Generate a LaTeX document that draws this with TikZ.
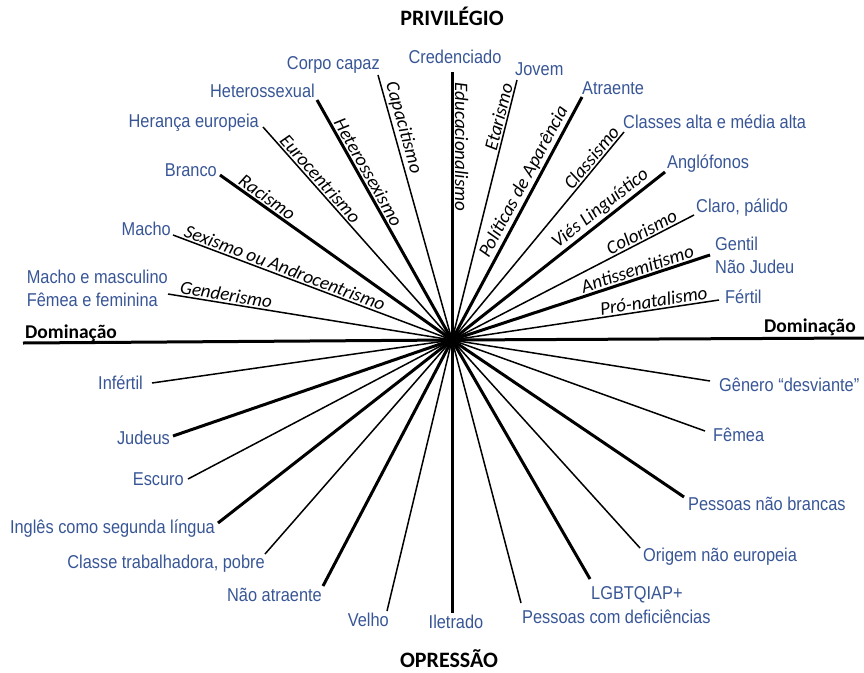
\documentclass[tikz,border=0pt]{standalone}
\usepackage{fontspec}
\setmainfont{Liberation Sans}
\newfontfamily\labfam[FakeStretch=0.88]{Liberation Sans}
\newfontfamily\calfam{Carlito}
\definecolor{labblue}{RGB}{56,86,150}
\tikzset{
 thinray/.style={line width=1.5pt, black},
 thickray/.style={line width=3pt, black},
 ism/.style={sloped, above, inner sep=1.5pt, font=\calfam\itshape\fontsize{19}{19}\selectfont},
 grp/.style={text=labblue, inner sep=0pt, font=\labfam\fontsize{18.6}{23}\selectfont},
 ttl/.style={inner sep=0pt, font=\calfam\bfseries\fontsize{22}{22}\selectfont},
 domt/.style={inner sep=0pt, font=\calfam\bfseries\fontsize{19.5}{19.5}\selectfont},
}
\begin{document}
\begin{tikzpicture}[x=1pt,y=-1pt]
\useasboundingbox (0,0) rectangle (864,672);
\coordinate (O) at (452,340);
% rays
\coordinate (gA) at (168,294); \coordinate (gB) at (710,381);
\draw[thinray] (gA) -- node[ism,pos=0.20]{Genderismo} (O) -- (gB);
\coordinate (sA) at (173,235); \coordinate (sB) at (705,431);
\draw[thinray] (sA) -- node[ism,pos=0.39]{Sexismo ou Androcentrismo} (O) -- (sB);
\coordinate (rA) at (220,175); \coordinate (rB) at (684,497);
\draw[thickray] (rA) -- node[ism,pos=0.18]{Racismo} (O) -- (rB);
\coordinate (eA) at (263,127); \coordinate (eB) at (640,548);
\draw[thinray] (eA) -- node[ism,pos=0.27]{Eurocentrismo} (O) -- (eB);
\coordinate (hA) at (317,100); \coordinate (hB) at (590,579);
\draw[thickray] (hA) -- node[ism,pos=0.32]{Heterossexismo} (O) -- (hB);
\coordinate (cA) at (378,75); \coordinate (cB) at (521,603);
\draw[thinray] (cA) -- node[ism,pos=0.21]{Capacitismo} (O) -- (cB);
\coordinate (dA) at (452,72); \coordinate (dB) at (452,613);
\draw[thickray] (dA) -- node[ism,pos=0.28]{Educacionalismo} (O) -- (dB);
\coordinate (tA) at (517,80); \coordinate (tB) at (387,611);
\draw[thinray] (tA) -- node[ism,pos=0.15]{Etarismo} (O) -- (tB);
\coordinate (pA) at (582,97); \coordinate (pB) at (323,586);
\draw[thickray] (pA) -- node[ism,pos=0.37]{Políticas de Aparência} (O) -- (pB);
\coordinate (kA) at (624,132); \coordinate (kB) at (265,554);
\draw[thinray] (kA) -- node[ism,pos=0.15]{Classismo} (O) -- (kB);
\coordinate (lA) at (665,172); \coordinate (lB) at (218,523);
\draw[thickray] (lA) -- node[ism,pos=0.27]{Viés Linguístico} (O) -- (lB);
\coordinate (oA) at (694,215); \coordinate (oB) at (188,479);
\draw[thinray] (oA) -- node[ism,pos=0.20]{Colorismo} (O) -- (oB);
\coordinate (aA) at (710,255); \coordinate (aB) at (173,436);
\draw[thickray] (aA) -- node[ism,pos=0.27]{Antissemitismo} (O) -- (aB);
\coordinate (nA) at (719,300); \coordinate (nB) at (152,383);
\draw[thinray] (nA) -- node[ism,pos=0.24]{Pró-natalismo} (O) -- (nB);
\coordinate (mA) at (23,343); \coordinate (mB) at (864,338);
\draw[thickray] (mA) -- (O) -- (mB);
% privilege labels
\node[grp, anchor=east, align=left] (lgen) at (168,288) {Macho e masculino\\Fêmea e feminina};
\node[grp, anchor=base east] (lsex) at (171,235) {Macho};
\node[grp, anchor=base east] (lrac) at (217,176) {Branco};
\node[grp, anchor=base east] (leur) at (259,127) {Herança europeia};
\node[grp, anchor=base east] (lhet) at (315,97) {Heterossexual};
\node[grp, anchor=base east] (lcap) at (380,69) {Corpo capaz};
\node[grp, anchor=base] (ledu) at (455,63) {Credenciado};
\node[grp, anchor=base west] (leta) at (515,75) {Jovem};
\node[grp, anchor=base west] (lapa) at (582,94) {Atraente};
\node[grp, anchor=base west] (lcla) at (623,128) {Classes alta e média alta};
\node[grp, anchor=base west] (llin) at (667,168) {Anglófonos};
\node[grp, anchor=base west] (lcol) at (696,212) {Claro, pálido};
\node[grp, anchor=west, align=left] (lant) at (715,255) {Gentil\\Não Judeu};
\node[grp, anchor=base west] (lnat) at (725,303) {Fértil};
% oppression labels
\node[grp, anchor=base west] (rgen) at (719,391) {Gênero “desviante”};
\node[grp, anchor=base west] (rsex) at (713,441) {Fêmea};
\node[grp, anchor=base west] (rrac) at (688,510) {Pessoas não brancas};
\node[grp, anchor=base west] (reur) at (643,561) {Origem não europeia};
\node[grp, anchor=base west] (rhet) at (591,599) {LGBTQIAP+};
\node[grp, anchor=base west] (rcap) at (522,623) {Pessoas com deficiências};
\node[grp, anchor=base] (redu) at (456,628) {Iletrado};
\node[grp, anchor=base east] (reta) at (389,626) {Velho};
\node[grp, anchor=base east] (rapa) at (322,601) {Não atraente};
\node[grp, anchor=base east] (rcla) at (265,568) {Classe trabalhadora, pobre};
\node[grp, anchor=base east] (rlin) at (215,533) {Inglês como segunda língua};
\node[grp, anchor=base east] (rcol) at (184,485) {Escuro};
\node[grp, anchor=base east] (rant) at (170,444) {Judeus};
\node[grp, anchor=base east] (rnat) at (143,389) {Infértil};
% titles
\node[ttl, anchor=base] (tpriv) at (452,25) {PRIVILÉGIO};
\node[ttl, anchor=base] (topp) at (449,667) {OPRESSÃO};
\node[domt, anchor=base west] (tdl) at (25,338) {Dominação};
\node[domt, anchor=base east] (tdr) at (856,332) {Dominação};
\end{tikzpicture}
\end{document}
